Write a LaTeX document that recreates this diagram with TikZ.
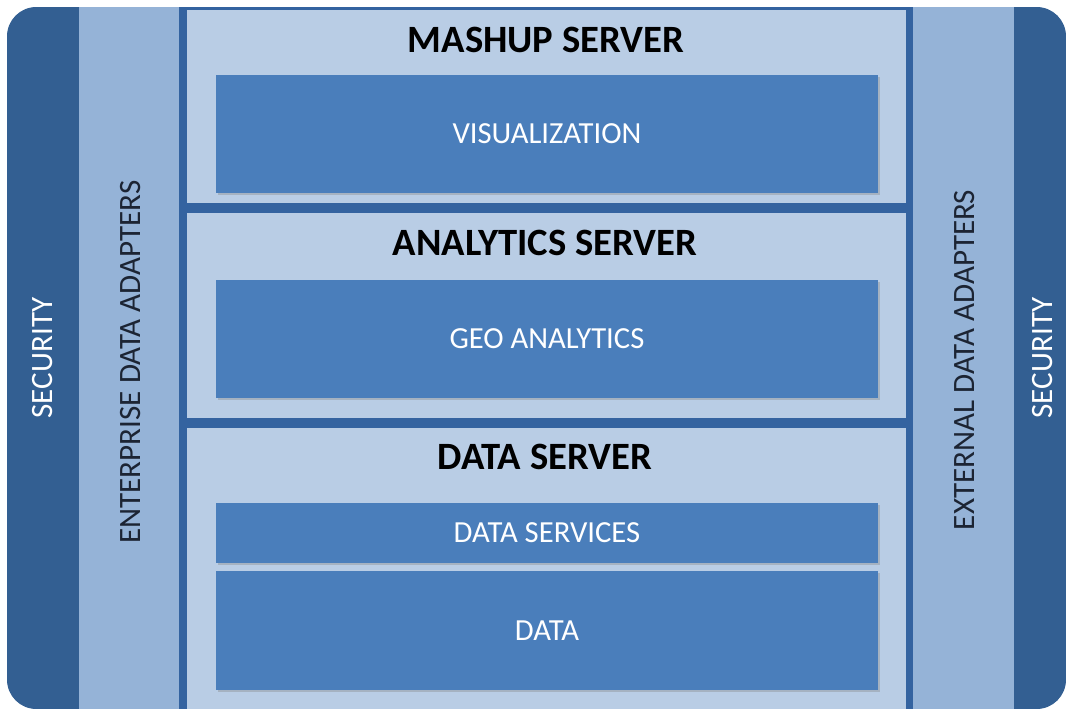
\documentclass[tikz,border=0pt]{standalone}
\usepackage{fontspec}
\setmainfont{Carlito}
\usepackage{tikz}
\usetikzlibrary{fit,shadows}

\definecolor{secblue}{HTML}{335F92}
\definecolor{adaptblue}{HTML}{95B3D7}
\definecolor{paleblue}{HTML}{B9CDE5}
\definecolor{lineblue}{HTML}{3463A0}
\definecolor{boxblue}{HTML}{4A7EBB}
\definecolor{adapttext}{HTML}{1C2433}

\tikzset{
  innerbox/.style={fill=boxblue, inner sep=0pt,
    drop shadow={shadow xshift=1.5pt, shadow yshift=-1.5pt, opacity=0.35}},
  boxtext/.style={text=white, font=\fontsize{23}{26}\selectfont},
  title/.style={font=\fontsize{29}{32}\selectfont\bfseries, text=black},
  sidetext/.style={rotate=90, font=\fontsize{23.3}{26}\selectfont}
}

\begin{document}
\begin{tikzpicture}[x=0.75pt,y=-0.75pt]
\useasboundingbox (0,0) rectangle (1068,709);
\begin{scope}
\clip[rounded corners=22pt] (7,7) rectangle (1066,709);
\fill[secblue] (7,7) rectangle (79,709);
\fill[adaptblue] (79,7) rectangle (179,709);
\fill[lineblue] (179,7) rectangle (913,709);
\fill[adaptblue] (913,7) rectangle (1014,709);
\fill[secblue] (1014,7) rectangle (1066,709);
% three server panels
\fill[paleblue] (187,10) rectangle (906,203);
\fill[paleblue] (187,213) rectangle (906,418);
\fill[paleblue] (187,428) rectangle (906,709);
\end{scope}

\node[sidetext, text=white] (secleft) at (43,358) {SECURITY};
\node[sidetext, text=adapttext] (enterprise) at (131,362) {ENTERPRISE DATA ADAPTERS};
\node[sidetext, text=adapttext] (external) at (965,360) {EXTERNAL DATA ADAPTERS};
\node[sidetext, text=white] (secright) at (1043,358) {SECURITY};

\node[title] (mashup) at (546,40) {MASHUP SERVER};
\node[innerbox, fit={(216,75)(878,193)}] (vis) {};
\node[boxtext] at (vis) {VISUALIZATION};

\node[title] (analytics) at (545,243) {ANALYTICS SERVER};
\node[innerbox, fit={(216,280)(878,398)}] (geo) {};
\node[boxtext] at (geo) {GEO ANALYTICS};

\node[title] (dataserver) at (545,457) {DATA SERVER};
\node[innerbox, fit={(216,503)(878,563)}] (services) {};
\node[boxtext] at (services) {DATA SERVICES};
\node[innerbox, fit={(216,571)(878,690)}] (data) {};
\node[boxtext] at (data) {DATA};
\end{tikzpicture}
\end{document}
